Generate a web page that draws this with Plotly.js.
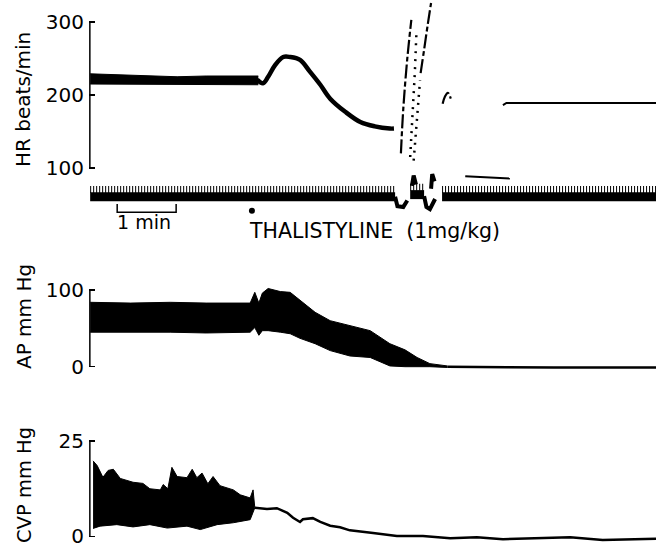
<!DOCTYPE html>
<html>
<head>
<meta charset="utf-8">
<script src="https://cdn.plot.ly/plotly-3.0.1.min.js"></script>
<style>html,body{margin:0;padding:0;background:#fff;}#chart{width:656px;height:547px;}</style>
</head>
<body>
<div id="chart"></div>
<script>
// ---------- DATA (time in minutes) ----------
// Heart rate (beats/min)
const hrBandT     = [0, 0.5, 1.0, 1.5, 2.0, 2.5, 2.9];
const hrBandUpper = [229, 228, 227, 225, 226, 226, 226];
const hrBandLower = [215, 215, 214, 214, 214, 214, 214];
const hrCurveT = [2.88, 2.98, 3.07, 3.19, 3.33, 3.45, 3.62, 3.79, 3.97, 4.14, 4.40, 4.66, 4.91, 5.17, 5.24];
const hrCurve  = [221, 216, 225, 241, 252, 252, 248, 232, 214, 195, 177, 163, 157, 154, 154];
const hrArtT = [5.36, 5.40, 5.47, 5.54, null, 5.70, 5.76, 5.82, 5.88, null, 6.08, 6.12, 6.17, 6.22];
const hrArt  = [120, 180, 250, 303, null, 230, 262, 295, 326, null, 188, 198, 203, 195];
const hrDotT = [5.52, 5.56, 5.60, 5.63, null, 5.58, 5.64, 5.69];
const hrDot  = [115, 170, 230, 290, null, 110, 165, 220];
const hrTailT = [7.12, 7.18, 7.6, 8.4, 9.2, 9.76];
const hrTail  = [186, 189, 189, 189, 189, 189];

// Event / time marker channel
const mkT    = [0, 5.26, null, 5.52, 5.76, null, 6.07, 9.76];
const mkBase = [6.6, 6.6, null, 6.9, 6.9, null, 6.6, 6.6];
const mkComb = [7.6, 7.6, null, 7.9, 7.9, null, 7.6, 7.6];
const mkArtT = [5.26, 5.30, 5.40, 5.47, null, 5.76, 5.80, 5.86, 5.95, null, 5.55, 5.58, 5.62, null, 5.88, 5.90, 5.94];
const mkArt  = [6.6, 5.3, 5.2, 6.1, null, 6.7, 5.2, 4.9, 6.3, null, 8.1, 9.5, 8.3, null, 7.7, 9.7, 8.7];
const mkLineT = [6.47, 7.24];
const mkLine  = [9.4, 9.1];
const scaleBarT = [0.466, 0.466, 1.483, 1.483];
const scaleBarY = [5.6, 4.5, 4.5, 5.6];
const injectT = [2.79];
const injectY = [4.7];

// Arterial pressure (mm Hg)
const apT     = [0, 0.7, 1.38, 2.0, 2.76, 2.84, 2.91, 2.97, 3.07, 3.28, 3.45, 3.62, 3.88, 4.14, 4.48, 4.83, 5.17, 5.43, 5.64, 5.86, 6.16];
const apUpper = [84, 83, 84, 83, 83, 97, 83, 96, 102, 98, 97, 87, 71, 60, 54, 47, 30, 22, 12, 4, 1];
const apLower = [45, 45, 45, 44, 45, 51, 41, 47, 47, 45, 43, 37, 30, 21, 14, 12, 1, 0, 0, 0, -1];
const apTailT = [6.16, 6.6, 7.2, 8.0, 8.8, 9.76];
const apTail  = [0, -0.5, -0.8, -1, -1, -1];

// Central venous pressure (mm Hg)
const cvpT     = [0.05, 0.12, 0.22, 0.31, 0.40, 0.52, 0.74, 0.91, 1.03, 1.21, 1.26, 1.34, 1.41, 1.50, 1.67, 1.76, 1.84, 1.93, 2.03, 2.12, 2.24, 2.47, 2.59, 2.76, 2.81, 2.84];
const cvpUpper = [19.8, 18.6, 15.5, 17.3, 17.6, 15.2, 14.2, 13.9, 12.5, 12.2, 13.6, 12.5, 18.1, 15.7, 15.4, 17.6, 15.4, 16.6, 13.8, 15.7, 13.3, 12.2, 10.9, 10.1, 12.2, 7.5];
const cvpLowT  = [0.05, 0.17, 0.46, 0.74, 1.03, 1.33, 1.67, 1.90, 2.19, 2.47, 2.76, 2.84];
const cvpLower = [2.1, 2.7, 3.1, 2.5, 3.1, 2.2, 2.7, 1.8, 3.1, 3.6, 4.4, 7.5];
const cvpTailT = [2.84, 2.90, 3.05, 3.22, 3.40, 3.50, 3.62, 3.67, 3.84, 3.97, 4.14, 4.31, 4.48, 4.88, 5.29, 5.74, 6.21, 6.67, 7.12, 8.28, 8.84, 9.76];
const cvpTail  = [7.5, 7.4, 7.2, 7.4, 6.2, 4.9, 3.8, 4.5, 4.8, 3.8, 2.8, 2.4, 1.6, 0.9, 0.1, 0.1, -0.5, -0.2, -0.7, -0.2, -0.9, -0.6];

// Tick labels and channel titles
const hrTicks = [100, 200, 300];
const apTicks = [0, 100];
const cvpTicks = [0, 25];
const channelTitles = ['HR beats/min', 'AP mm Hg', 'CVP mm Hg'];

// ---------- PLOT ----------
const K = '#000';
const FONT = 'DejaVu Sans, sans-serif';
const traces = [
  {x: hrBandT, y: hrBandLower, yaxis: 'y', mode: 'lines', line: {color: K, width: 1}},
  {x: hrBandT, y: hrBandUpper, yaxis: 'y', mode: 'lines', line: {color: K, width: 1}, fill: 'tonexty', fillcolor: K},
  {x: hrCurveT, y: hrCurve, yaxis: 'y', mode: 'lines', line: {color: K, width: 4.5, shape: 'spline'}},
  {x: hrArtT, y: hrArt, yaxis: 'y', mode: 'lines', line: {color: K, width: 2.2, shape: 'spline', dash: '14px,3px,5px,3px'}, connectgaps: false},
  {x: hrDotT, y: hrDot, yaxis: 'y', mode: 'lines', line: {color: K, width: 2.5, dash: '2px,6px'}, connectgaps: false},
  {x: hrTailT, y: hrTail, yaxis: 'y', mode: 'lines', line: {color: K, width: 2}},

  {x: mkT, y: mkBase, yaxis: 'y4', mode: 'lines', line: {color: K, width: 9}, connectgaps: false},
  {x: mkT, y: mkComb, yaxis: 'y4', mode: 'lines', line: {color: K, width: 7, dash: '1px,2px'}, connectgaps: false},
  {x: mkArtT, y: mkArt, yaxis: 'y4', mode: 'lines', line: {color: K, width: 4}, connectgaps: false},
  {x: mkLineT, y: mkLine, yaxis: 'y4', mode: 'lines', line: {color: K, width: 2}},
  {x: scaleBarT, y: scaleBarY, yaxis: 'y4', mode: 'lines', line: {color: K, width: 1.5}},
  {x: injectT, y: injectY, yaxis: 'y4', mode: 'markers', marker: {color: K, size: 6}},

  {x: apT, y: apLower, yaxis: 'y2', mode: 'lines', line: {color: K, width: 1}},
  {x: apT, y: apUpper, yaxis: 'y2', mode: 'lines', line: {color: K, width: 1}, fill: 'tonexty', fillcolor: K},
  {x: apTailT, y: apTail, yaxis: 'y2', mode: 'lines', line: {color: K, width: 2.5}},

  {x: cvpLowT, y: cvpLower, yaxis: 'y3', mode: 'lines', line: {color: K, width: 1}},
  {x: cvpT, y: cvpUpper, yaxis: 'y3', mode: 'lines', line: {color: K, width: 1}, fill: 'tonexty', fillcolor: K},
  {x: cvpTailT, y: cvpTail, yaxis: 'y3', mode: 'lines', line: {color: K, width: 2.5}}
];

const W = 656, H = 547, L = 89;
const dom = (top, bottom) => [1 - bottom / H, 1 - top / H];
const px = (x) => (x - L) / (W - L);
const py = (y) => 1 - y / H;
const yax = (d, r, tv) => ({
  domain: d, range: r, anchor: 'x',
  tickvals: tv, ticktext: tv.map(String), ticks: 'inside', ticklen: 6, tickwidth: 1.5, tickcolor: K,
  showline: false, showgrid: false, zeroline: false, fixedrange: true,
  tickfont: {family: FONT, size: 20, color: K}, ticklabelstandoff: 4, ticklabeloverflow: 'allow'
});
const vtitle = (text, x, y, size) => ({
  xref: 'paper', yref: 'paper', x: px(x), y: py(y), text: text, textangle: -90,
  showarrow: false, xanchor: 'center', yanchor: 'middle', font: {family: FONT, size: size, color: K}
});

const layout = {
  width: W, height: H,
  margin: {l: L, r: 0, t: 0, b: 0},
  paper_bgcolor: '#fff', plot_bgcolor: 'rgba(0,0,0,0)',
  showlegend: false,
  font: {family: FONT, color: K},
  xaxis: {domain: [0, 1], range: [-0.02, 9.76], visible: false, fixedrange: true},
  yaxis:  yax(dom(0.1, 170.9), [96, 330], hrTicks),
  yaxis4: Object.assign(yax(dom(160, 245), [0, 11.64], []), {visible: false}),
  yaxis2: yax(dom(283.9, 371.3), [-6, 108], apTicks),
  yaxis3: yax(dom(433.4, 546.0), [-2.5, 27], cvpTicks),
  shapes: [
    {type: 'line', xref: 'paper', yref: 'y', x0: 0.0015, x1: 0.0015, y0: 100, y1: 300, line: {color: K, width: 1.5}},
    {type: 'line', xref: 'paper', yref: 'y2', x0: 0.0015, x1: 0.0015, y0: 0, y1: 100, line: {color: K, width: 1.5}},
    {type: 'line', xref: 'paper', yref: 'y3', x0: 0.0015, x1: 0.0015, y0: 0, y1: 25, line: {color: K, width: 1.5}}
  ],
  annotations: [
    vtitle(channelTitles[0], 23, 100, 20),
    vtitle(channelTitles[1], 24, 317, 20),
    vtitle(channelTitles[2], 25, 485, 19.5),
    {xref: 'x', yref: 'y4', x: 0.93, y: 3.2, text: '1 min', showarrow: false, xanchor: 'center', yanchor: 'middle', font: {family: FONT, size: 19, color: K}},
    {xref: 'x', yref: 'y4', x: 2.70, y: 1.9, text: 'THALISTYLINE  (1mg/kg)', showarrow: false, xanchor: 'left', yanchor: 'middle', font: {family: FONT, size: 20.5, color: K}}
  ]
};

Plotly.newPlot('chart', traces, layout, {displayModeBar: false, staticPlot: true});
</script>
</body>
</html>
